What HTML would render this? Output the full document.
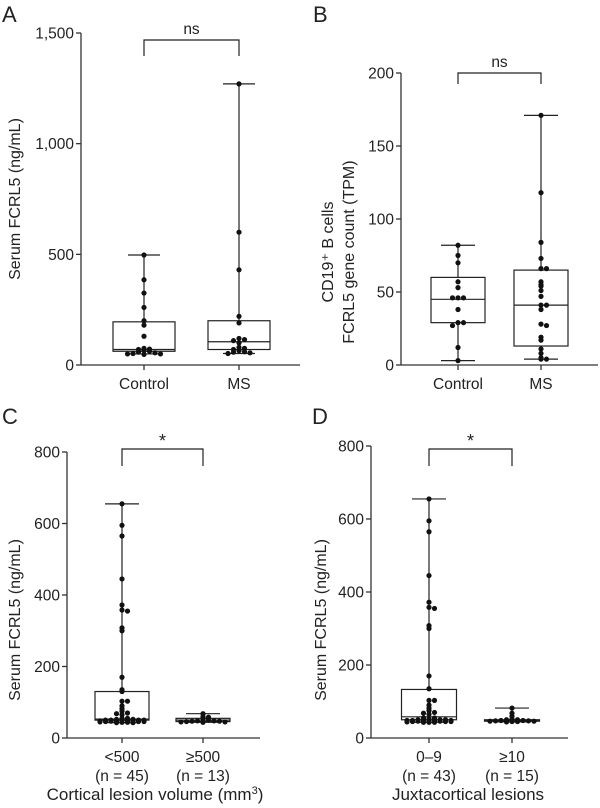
<!DOCTYPE html>
<html><head><meta charset="utf-8"><style>
html,body{margin:0;padding:0;background:#fff;}
svg{display:block;font-family:"Liberation Sans",sans-serif;}
</style></head><body>
<svg id="fig" width="600" height="808" viewBox="0 0 600 808" xmlns="http://www.w3.org/2000/svg"></svg>
<script>
// Panel A data
const aCats = ["Control","MS"];
const aTicks = [0,500,1000,1500];
const aTickLabels = ["0","500","1,000","1,500"];
const aPts0 = [497,385,325,260,200,180,130,75,72,70,65,62,58,55,52,50,50,48];
const aPts1 = [1270,600,430,220,190,120,115,110,100,80,75,70,65,60,58,55,52];
const aBox0 = [50,62,70,195,497];
const aBox1 = [52,70,105,200,1270];
// Panel B data
const bCats = ["Control","MS"];
const bTicks = [0,50,100,150,200];
const bPts0 = [82,75,70,57,53,46,46,46,38,29,29,27,12,3];
const bPts1 = [171,118,84,73,66,66,57,55,54,51,47,41,41,38,28,27,19,17,11,8,5,4,4];
const bBox0 = [3,29,45,60,82];
const bBox1 = [4,13,41,65,171];
// Panel C data
const cCats = ["<500","≥500"];
const cSub = ["(n = 45)","(n = 13)"];
const cTicks = [0,200,400,600,800];
const cPts0 = [655,595,565,445,372,358,355,308,300,170,135,130,103,103,90,82,75,70,68,65,55,55,52,52,50,50,50,50,48,48,48,48,47,47,46,46,46,45,45,45,45,44,44,43,43];
const cPts1 = [68,60,58,55,50,48,48,47,47,46,45,45,44];
const cBox0 = [43,50,53,130,655];
const cBox1 = [44,46,50,55,68];
// Panel D data
const dCats = ["0–9","≥10"];
const dSub = ["(n = 43)","(n = 15)"];
const dTicks = [0,200,400,600,800];
const dPts0 = [655,595,565,445,372,358,355,308,300,170,135,103,103,90,82,75,70,68,65,55,55,52,52,50,50,50,50,48,48,48,47,47,46,46,46,45,45,45,44,44,43,43,43];
const dPts1 = [82,68,60,52,50,50,48,48,47,47,46,46,45,45,44];
const dBox0 = [43,50,58,133,655];
const dBox1 = [44,46,48,50,82];

const svg = document.getElementById('fig');
const NS = "http://www.w3.org/2000/svg";
function mk(tag, attrs, parent){
  const e = document.createElementNS(NS, tag);
  for (const k in attrs) e.setAttribute(k, attrs[k]);
  (parent||svg).appendChild(e);
  return e;
}
function txt(s, x, y, size, anchor, parent){
  const t = mk('text', {x:x, y:y, 'font-size':size, 'text-anchor':anchor||'middle', fill:'#222'}, parent);
  t.textContent = s;
  return t;
}

function panel(o){
  const g = mk('g', {});
  
  
  const Y = v => o.y0 - (v - o.min) / (o.max - o.min) * (o.y0 - o.y1);
  const X = i => o.xs[i];
  const L = txt(o.letter, o.lx, o.ly, 22, 'start', g);
  
  
  const ya = mk('line', {x1:o.ax, y1:Y(o.max), x2:o.ax, y2:o.y0, stroke:'#333', 'stroke-width':1.3}, g);
  
  
  const xa = mk('line', {x1:o.ax, y1:o.y0, x2:o.axEnd, y2:o.y0, stroke:'#333', 'stroke-width':1.3}, g);
  
  
  o.ticks.forEach((t, i) => {
    mk('line', {x1:o.ax-5, y1:Y(t), x2:o.ax, y2:Y(t), stroke:'#333', 'stroke-width':1.3}, g);
    const tl = txt(o.tickLabels ? o.tickLabels[i] : String(t), o.ax-7, Y(t)+5.5, 15.5, 'end', g);
    
    
  });
  o.yTitle.forEach((line, i) => {
    const tt = txt(line, 0, 0, 16, 'middle', g);
    tt.setAttribute('transform', `translate(${o.titleX + i*21},${o.titleY}) rotate(-90)`);
    
    
  });
  o.cats.forEach((c, i) => {
    mk('line', {x1:X(i), y1:o.y0, x2:X(i), y2:o.y0+5, stroke:'#333', 'stroke-width':1.3}, g);
    const cl = txt(c, X(i), o.y0+24, 15.5, 'middle', g);
    
    
    if (o.sub){
      const sl = txt(o.sub[i], X(i), o.y0+43, 15.5, 'middle', g);
      
      
    }
    const b = o.boxes[i], hw = o.bw/2, cap = o.cap;
    const bg = mk('g', {stroke:'#222', 'stroke-width':1.2, fill:'none'}, g);
    
    
    mk('line', {x1:X(i), y1:Y(b[4]), x2:X(i), y2:Y(b[3])}, bg);
    mk('line', {x1:X(i), y1:Y(b[1]), x2:X(i), y2:Y(b[0])}, bg);
    mk('line', {x1:X(i)-cap, y1:Y(b[4]), x2:X(i)+cap, y2:Y(b[4])}, bg);
    mk('line', {x1:X(i)-cap, y1:Y(b[0]), x2:X(i)+cap, y2:Y(b[0])}, bg);
    mk('rect', {x:X(i)-hw, y:Y(b[3]), width:o.bw, height:Y(b[1])-Y(b[3])}, bg);
    mk('line', {x1:X(i)-hw, y1:Y(b[2]), x2:X(i)+hw, y2:Y(b[2])}, bg);
    const pts = o.pts[i];
    const counts = {};
    const perRow = Math.floor((o.bw - 4) / 5.5) | 1;
    pts.forEach(v => {
      const key = Math.round(Y(v)/4);
      const n = counts[key] = (counts[key]||0) + 1;
      const k = n - 1;
      const slot = k % perRow;
      const off = (slot === 0 ? 0 : (slot % 2 ? 1 : -1) * Math.ceil(slot/2)) * 5.5;
      const p = mk('circle', {cx:X(i)+off, cy:Y(v), r:2.6, fill:'#111'}, g);
      
      
    });
  });
  const br = mk('path', {d:`M${X(0)} ${o.brY+o.brH} V${o.brY} H${X(1)} V${o.brY+o.brH}`, stroke:'#222', 'stroke-width':1.2, fill:'none'}, g);
  
  
  const sg = txt(o.sig, (X(0)+X(1))/2, o.brY-6 + (o.sig==='*'?4:0), o.sig==='*'?18:15.5, 'middle', g);
  
  
  if (o.xTitle){
    const xt = txt('', o.xTitleX, o.y0+62, 17, 'middle', g);
    xt.innerHTML = o.xTitle;
    
    
  }
}

panel({name:'panel-a', letter:'A', lx:2, ly:22, ax:81, axEnd:300, y0:365, y1:33, min:0, max:1500,
  ticks:aTicks, tickLabels:aTickLabels, cats:aCats, xs:[144,239], bw:62, cap:16,
  boxes:[aBox0,aBox1], pts:[aPts0,aPts1], brY:40, brH:16, sig:'ns',
  yTitle:['Serum FCRL5 (ng/mL)'], titleX:20, titleY:199});
panel({name:'panel-b', letter:'B', lx:313, ly:22, ax:401, axEnd:598, y0:365, y1:73, min:0, max:200,
  ticks:bTicks, cats:bCats, xs:[458,541], bw:54, cap:17,
  boxes:[bBox0,bBox1], pts:[bPts0,bPts1], brY:73, brH:11, sig:'ns',
  yTitle:['CD19⁺ B cells','FCRL5 gene count (TPM)'], titleX:333, titleY:252});
panel({name:'panel-c', letter:'C', lx:2, ly:424, ax:67, axEnd:260, y0:738, y1:452, min:0, max:800,
  ticks:cTicks, cats:cCats, sub:cSub, xs:[122,203], bw:54, cap:17,
  boxes:[cBox0,cBox1], pts:[cPts0,cPts1], brY:449, brH:17, sig:'*',
  yTitle:['Serum FCRL5 (ng/mL)'], titleX:20, titleY:620,
  xTitle:'Cortical lesion volume (mm<tspan baseline-shift="super" font-size="11">3</tspan>)', xTitleX:155});
panel({name:'panel-d', letter:'D', lx:312, ly:424, ax:371, axEnd:568, y0:738, y1:446, min:0, max:800,
  ticks:dTicks, cats:dCats, sub:dSub, xs:[429,512], bw:55, cap:17,
  boxes:[dBox0,dBox1], pts:[dPts0,dPts1], brY:449, brH:17, sig:'*',
  yTitle:['Serum FCRL5 (ng/mL)'], titleX:326, titleY:620,
  xTitle:'Juxtacortical lesions', xTitleX:468});
</script>
</body></html>
